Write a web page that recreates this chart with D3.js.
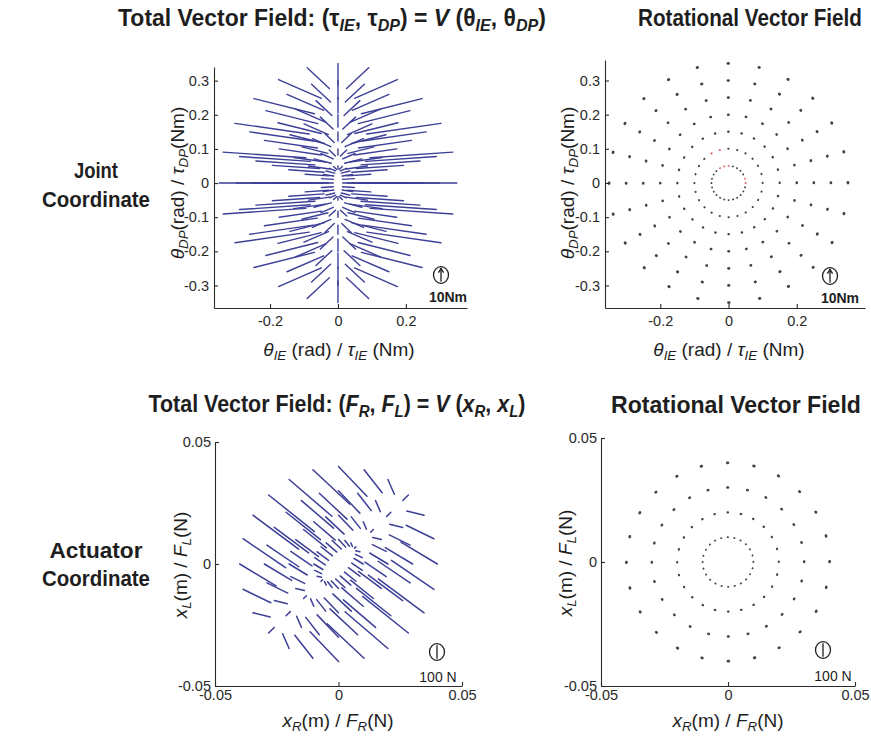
<!DOCTYPE html>
<html><head><meta charset="utf-8">
<script src="https://cdn.jsdelivr.net/npm/d3@7"></script>
<style>
body{margin:0;background:#fff;}
svg{display:block;font-family:"Liberation Sans",Arial,sans-serif;}
</style></head><body>
<svg id="fig" width="871" height="740"></svg>
<script>
// ---- sampling grid (polar) ----
const angleDeg = [0,15,30,45,60,75,90,105,120,135,150,165,180,195,210,225,240,255,270,285,300,315,330,345];
const jointRings = [0.05,0.10,0.15,0.20,0.25,0.30,0.35];      // rad
const actuatorRings = [0.01,0.02,0.03,0.04];                   // m

// ---- total field, joint coordinates (Nm); row = ring, column = angle ----
const tauIE = [
 [-11.3,-10.9,-9.7,-8.0,-5.6,-2.9,0,2.9,5.6,8.0,9.7,10.9,11.3,10.9,9.7,8.0,5.6,2.9,0,-2.9,-5.6,-8.0,-9.7,-10.9],
 [-22.5,-21.7,-19.5,-15.9,-11.3,-5.8,0,5.8,11.3,15.9,19.5,21.7,22.5,21.7,19.5,15.9,11.3,5.8,0,-5.8,-11.3,-15.9,-19.5,-21.7],
 [-33.8,-32.6,-29.2,-23.9,-16.9,-8.7,0,8.7,16.9,23.9,29.2,32.6,33.8,32.6,29.2,23.9,16.9,8.7,0,-8.7,-16.9,-23.9,-29.2,-32.6],
 [-45.0,-43.5,-39.0,-31.8,-22.5,-11.7,0,11.7,22.5,31.8,39.0,43.5,45.0,43.5,39.0,31.8,22.5,11.7,0,-11.7,-22.5,-31.8,-39.0,-43.5],
 [-56.3,-54.3,-48.7,-39.8,-28.1,-14.6,0,14.6,28.1,39.8,48.7,54.3,56.3,54.3,48.7,39.8,28.1,14.6,0,-14.6,-28.1,-39.8,-48.7,-54.3],
 [-67.5,-65.2,-58.5,-47.7,-33.8,-17.5,0,17.5,33.8,47.7,58.5,65.2,67.5,65.2,58.5,47.7,33.8,17.5,0,-17.5,-33.8,-47.7,-58.5,-65.2],
 [-78.8,-76.1,-68.2,-55.7,-39.4,-20.4,0,20.4,39.4,55.7,68.2,76.1,78.8,76.1,68.2,55.7,39.4,20.4,0,-20.4,-39.4,-55.7,-68.2,-76.1]
];
const tauDP = [
 [0,-0.7,-1.4,-2.0,-2.4,-2.7,-2.8,-2.7,-2.4,-2.0,-1.4,-0.7,0,0.7,1.4,2.0,2.4,2.7,2.8,2.7,2.4,2.0,1.4,0.7],
 [0,-1.5,-2.8,-4.0,-4.9,-5.4,-5.6,-5.4,-4.9,-4.0,-2.8,-1.5,0,1.5,2.8,4.0,4.9,5.4,5.6,5.4,4.9,4.0,2.8,1.5],
 [0,-2.2,-4.2,-6.0,-7.3,-8.2,-8.4,-8.2,-7.3,-6.0,-4.2,-2.2,0,2.2,4.2,6.0,7.3,8.2,8.4,8.2,7.3,6.0,4.2,2.2],
 [0,-2.9,-5.6,-8.0,-9.7,-10.9,-11.3,-10.9,-9.7,-8.0,-5.6,-2.9,0,2.9,5.6,8.0,9.7,10.9,11.3,10.9,9.7,8.0,5.6,2.9],
 [0,-3.6,-7.0,-9.9,-12.2,-13.6,-14.1,-13.6,-12.2,-9.9,-7.0,-3.6,0,3.6,7.0,9.9,12.2,13.6,14.1,13.6,12.2,9.9,7.0,3.6],
 [0,-4.4,-8.4,-11.9,-14.6,-16.3,-16.9,-16.3,-14.6,-11.9,-8.4,-4.4,0,4.4,8.4,11.9,14.6,16.3,16.9,16.3,14.6,11.9,8.4,4.4],
 [0,-5.1,-9.8,-13.9,-17.1,-19.0,-19.7,-19.0,-17.1,-13.9,-9.8,-5.1,0,5.1,9.8,13.9,17.1,19.0,19.7,19.0,17.1,13.9,9.8,5.1]
];

// ---- total field, actuator coordinates (N) ----
const forceR = [
 [-78.3,-59.8,-37.2,-12.0,13.9,38.9,61.3,79.5,92.2,98.7,98.5,91.5,78.3,59.8,37.2,12.0,-13.9,-38.9,-61.3,-79.5,-92.2,-98.7,-98.5,-91.5],
 [-156.6,-119.5,-74.3,-24.0,27.9,77.9,122.6,158.9,184.5,197.4,196.9,183.0,156.6,119.5,74.3,24.0,-27.9,-77.9,-122.6,-158.9,-184.5,-197.4,-196.9,-183.0],
 [-234.9,-179.3,-111.5,-36.1,41.8,116.8,183.9,238.4,276.7,296.1,295.4,274.4,234.9,179.3,111.5,36.1,-41.8,-116.8,-183.9,-238.4,-276.7,-296.1,-295.4,-274.4],
 [-313.2,-239.0,-148.6,-48.1,55.7,155.8,245.2,317.8,368.9,394.8,393.8,365.9,313.2,239.0,148.6,48.1,-55.7,-155.8,-245.2,-317.8,-368.9,-394.8,-393.8,-365.9]
];
const forceL = [
 [47.9,29.5,9.0,-12.0,-32.3,-50.3,-64.9,-75.1,-80.2,-79.8,-74.0,-63.1,-47.9,-29.5,-9.0,12.0,32.3,50.3,64.9,75.1,80.2,79.8,74.0,63.1],
 [95.8,59.0,18.1,-24.0,-64.5,-100.6,-129.8,-150.2,-160.3,-159.6,-147.9,-126.2,-95.8,-59.0,-18.1,24.0,64.5,100.6,129.8,150.2,160.3,159.6,147.9,126.2],
 [143.7,88.4,27.1,-36.1,-96.8,-150.9,-194.7,-225.3,-240.5,-239.3,-221.9,-189.2,-143.7,-88.4,-27.1,36.1,96.8,150.9,194.7,225.3,240.5,239.3,221.9,189.2],
 [191.6,117.9,36.1,-48.1,-129.0,-201.2,-259.6,-300.4,-320.7,-319.1,-295.8,-252.3,-191.6,-117.9,-36.1,48.1,129.0,201.2,259.6,300.4,320.7,319.1,295.8,252.3]
];

// ---- rotational part: tangential magnitude per ring ----
const rotJoint = [0.2,0.25,0.3,0.35,0.4,0.45,0.5];        // Nm
const rotActuator = [3,4,5,6];                            // N
// samples whose rotational component reverses sign (ring radius, angle)
const rotJointReversed = [[0.05,0],[0.05,15],[0.05,90],[0.05,105],[0.05,120],[0.10,105],[0.10,120]];

// ---- tick labels / reference arrows ----
const jointTicksY = [-0.3,-0.2,-0.1,0,0.1,0.2,0.3];
const jointTicksX = [-0.2,0,0.2];
const actuatorTicks = [-0.05,0,0.05];
const jointRefTorque = 10;    // Nm
const actuatorRefForce = 100; // N

// quiver scale: display units per unit of effort
const kJoint = 0.0032;      // rad per Nm
const kActuator = 0.000047; // m per N

const BLUE = "#3c3f96";
const svg = d3.select("#fig");

function fmt(d){ return d === 0 ? "0" : String(d); }

// rich text with italic pieces and subscripts; optional horizontal fit
function rich(parts, o){
  const t = svg.append("text").attr("x", o.x).attr("y", o.y)
    .attr("text-anchor", o.anchor || "middle")
    .attr("font-size", o.size).attr("font-weight", o.weight || "normal")
    .attr("fill", o.fill || "#1e1e1e");
  let down = false;
  parts.forEach(p => {
    const [txt, kind] = Array.isArray(p) ? p : [p, ""];
    const s = t.append("tspan").text(txt);
    const sub = kind.includes("s");
    if (kind.includes("i") || sub) s.attr("font-style", "italic");
    if (sub) {
      s.attr("font-size", "0.7em");
      if (!down) { s.attr("dy", "0.3em"); down = true; }
    } else if (down) { s.attr("dy", "-0.21em"); down = false; }
  });
  let tf = "";
  if (o.rotate) tf += `rotate(${o.rotate},${o.x},${o.y}) `;
  if (o.width) {
    const f = o.width / t.node().getComputedTextLength();
    tf += `translate(${o.x},0) scale(${f},1) translate(${-o.x},0)`;
  }
  if (tf) t.attr("transform", tf);
  return t;
}

function makeAxes(p, ticksX, ticksY){
  const sx = d3.scaleLinear().domain(p.x).range(p.px);
  const sy = d3.scaleLinear().domain(p.y).range(p.py);
  const gx = svg.append("g").attr("transform", `translate(0,${p.py[0]})`)
    .call(d3.axisBottom(sx).tickValues(ticksX).tickFormat(fmt).tickSizeInner(-4).tickSizeOuter(0).tickPadding(p.padX));
  const gy = svg.append("g").attr("transform", `translate(${p.px[0]},0)`)
    .call(d3.axisLeft(sy).tickValues(ticksY).tickFormat(fmt).tickSizeInner(-4).tickSizeOuter(0).tickPadding(p.padY));
  [gx, gy].forEach(g => {
    g.selectAll("path,line").attr("stroke", "#2a2a2a").attr("stroke-width", 1.1);
    g.selectAll("text").attr("font-size", 14.5).attr("fill", "#2a2a2a")
      .attr("font-family", '"Liberation Sans",Arial,sans-serif');
  });
  return {sx, sy};
}

function quiver(ax, rings, U, V, k, w){
  const segs = [];
  rings.forEach((r, i) => angleDeg.forEach((a, j) => {
    const t = a * Math.PI / 180;
    const x0 = r * Math.cos(t), y0 = r * Math.sin(t);
    segs.push({x0: ax.sx(x0), y0: ax.sy(y0), x1: ax.sx(x0 + k * U[i][j]), y1: ax.sy(y0 + k * V[i][j])});
  }));
  svg.append("g").attr("stroke", BLUE).attr("stroke-width", w).attr("stroke-linecap", "round")
    .selectAll("line").data(segs).join("line")
    .attr("x1", d => d.x0).attr("y1", d => d.y0).attr("x2", d => d.x1).attr("y2", d => d.y1);
}

function rotational(ax, rings, mag, k, reversed, widths){
  const segs = [];
  rings.forEach((r, i) => angleDeg.forEach(a => {
    const t = a * Math.PI / 180;
    const x0 = r * Math.cos(t), y0 = r * Math.sin(t);
    const rev = reversed.some(q => q[0] === r && q[1] === a);
    const m = (rev ? -1 : 1) * k * mag[i];
    segs.push({x0: ax.sx(x0), y0: ax.sy(y0), x1: ax.sx(x0 - m * Math.sin(t)), y1: ax.sy(y0 + m * Math.cos(t)), rev, w: widths[i]});
  }));
  svg.append("g").attr("stroke-linecap", "round").selectAll("line").data(segs).join("line")
    .attr("x1", d => d.x0).attr("y1", d => d.y0).attr("x2", d => d.x1).attr("y2", d => d.y1)
    .attr("stroke", d => d.rev ? "#d9474c" : "#2e2e2e").attr("stroke-width", d => d.w)
    .attr("stroke-opacity", d => d.rev ? 0.85 : 0.9);
}

function refArrow(ax, cx, cy, value, k, head, label, lx, ly, bold){
  const L = ax.sy(0) - ax.sy(value * k);
  const g = svg.append("g").attr("stroke", "#1e1e1e").attr("fill", "none").attr("stroke-width", 1.3);
  g.append("ellipse").attr("cx", cx).attr("cy", cy).attr("rx", 7.5).attr("ry", 8.3);
  g.append("line").attr("x1", cx).attr("y1", cy + L / 2 + 1).attr("x2", cx).attr("y2", cy - L / 2 - 1);
  if (head) g.append("path").attr("d", `M${cx - 2.6},${cy - L / 2 + 3}L${cx},${cy - L / 2 - 1}L${cx + 2.6},${cy - L / 2 + 3}`);
  svg.append("text").attr("x", lx).attr("y", ly).attr("text-anchor", "middle")
    .attr("font-size", 14).attr("font-weight", bold ? "bold" : "normal").attr("fill", "#1e1e1e").text(label);
}

// ---- panels ----
const jt = makeAxes({x:[-0.365,0.38], px:[214,467], y:[-0.366,0.34], py:[308,67], padX:8, padY:5}, jointTicksX, jointTicksY);
const jr = makeAxes({x:[-0.362,0.40], px:[605,865], y:[-0.366,0.36], py:[308,60], padX:8, padY:5}, jointTicksX, jointTicksY);
const at = makeAxes({x:[-0.05,0.05], px:[215,462], y:[-0.05,0.05], py:[686,442], padX:4, padY:4}, actuatorTicks, actuatorTicks);
const ar = makeAxes({x:[-0.05,0.05], px:[601,855], y:[-0.05,0.05], py:[686,438], padX:4, padY:4}, actuatorTicks, actuatorTicks);

quiver(jt, jointRings, tauIE, tauDP, kJoint, 1.4);
quiver(at, actuatorRings, forceR, forceL, kActuator, 1.5);
rotational(jr, jointRings, rotJoint, kJoint, rotJointReversed, [1.8,2.0,2.3,2.5,2.6,2.7,2.8]);
rotational(ar, actuatorRings, rotActuator, kActuator, [], [1.8,2.2,2.5,2.7]);

refArrow(jt, 441, 275, jointRefTorque, kJoint, true, "10Nm", 448, 302, true);
refArrow(jr, 830, 276, jointRefTorque, kJoint, true, "10Nm", 840, 303, true);
refArrow(at, 437, 652, actuatorRefForce, kActuator, false, "100 N", 438, 682, false);
refArrow(ar, 823, 650, actuatorRefForce, kActuator, false, "100 N", 833, 681, false);

// ---- titles ----
rich(["Total Vector Field: (", "τ", ["IE","s"], ", ", "τ", ["DP","s"], ") = ", ["V","i"], " (", "θ", ["IE","s"], ", ", "θ", ["DP","s"], ")"],
  {x:332, y:26, size:23, weight:"bold", width:428});
rich(["Rotational Vector Field"], {x:750, y:26, size:23, weight:"bold", width:224});
rich(["Total Vector Field: (", ["F","i"], ["R","s"], ", ", ["F","i"], ["L","s"], ") = ", ["V","i"], " (", ["x","i"], ["R","s"], ", ", ["x","i"], ["L","s"], ")"],
  {x:337, y:412, size:23, weight:"bold", width:377});
rich(["Rotational Vector Field"], {x:736, y:413, size:23, weight:"bold", width:250});

rich(["Joint"], {x:96, y:178, size:22, weight:"bold", width:44});
rich(["Coordinate"], {x:96, y:207, size:22, weight:"bold", width:108});
rich(["Actuator"], {x:96, y:558, size:22, weight:"bold", width:93});
rich(["Coordinate"], {x:96, y:586, size:22, weight:"bold", width:108});

// ---- axis labels ----
const xJoint = [["θ","i"], ["IE","s"], " (rad) / ", ["τ","i"], ["IE","s"], " (Nm)"];
const yJoint = [["θ","i"], ["DP","s"], "(rad) / ", ["τ","i"], ["DP","s"], "(Nm)"];
const xAct = [["x","i"], ["R","s"], "(m) / ", ["F","i"], ["R","s"], "(N)"];
const yAct = [["x","i"], ["L","s"], "(m) / ", ["F","i"], ["L","s"], "(N)"];
rich(xJoint, {x:339, y:356, size:19});
rich(xJoint, {x:729, y:356, size:19});
rich(yJoint, {x:184, y:183, size:19, rotate:-90});
rich(yJoint, {x:574, y:183, size:19, rotate:-90});
rich(xAct, {x:338, y:727, size:19});
rich(xAct, {x:728, y:727, size:19});
rich(yAct, {x:187, y:565, size:19, rotate:-90});
rich(yAct, {x:572, y:563, size:19, rotate:-90});
</script>
</body></html>
